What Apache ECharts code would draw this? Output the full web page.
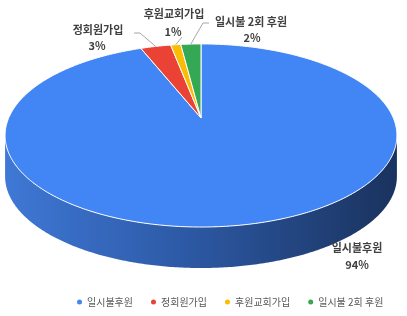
<!DOCTYPE html>
<html>
<head>
<meta charset="utf-8">
<script src="https://cdn.jsdelivr.net/npm/echarts@6/dist/echarts.min.js"></script>
<style>
html,body{margin:0;padding:0;background:#fff;}
#main{width:407px;height:316px;}
</style>
</head>
<body>
<div id="main"></div>
<script>
// data
var names=['일시불후원','정회원가입','후원교회가입','일시불 2회 후원'];
var values=[94,3,1,2];
var colors=['#4285f4','#ea4335','#fbbc04','#34a853'];
var pctText=['94%','3%','1%','2%'];

// label layout (text centers, leader bend points)
var labelPos=[[357,248],[98,30],[174,14],[251,22]];
var pctPos=[[357,265],[97,46],[173,32],[252,38]];
var leaderPts=[null,[[140,33],[134,33]],[[182,37]],[[203,23],[209,23]]];

// 3d ellipse projection
var cx=201,cy=118,A=192.3,B=88.2,p=0.191,depth=41;
function proj(t,dy){
	var u=Math.sin(t),v=Math.cos(t),w=1+p*v;
	return [cx+A*u/w,cy-B*v/w+(dy||0)];
}
var total=0;
for(var i=0;i<values.length;i++) total+=values[i];
var starts=[],acc=0;
for(var i=0;i<values.length;i++){starts.push(acc/total*Math.PI*2);acc+=values[i];}

function arc(a,b,dy){
	var pts=[],n=Math.max(2,Math.ceil((b-a)/0.01));
	for(var k=0;k<=n;k++) pts.push(proj(a+(b-a)*k/n,dy));
	return pts;
}

var lo=Math.acos(-p),hi=Math.PI*2-Math.acos(-p);
var font='"Noto Sans CJK KR", sans-serif';

function renderSlice(params,api){
	var i=params.seriesIndex;
	var a=starts[i],b=a+api.value(0)/total*Math.PI*2;
	var kids=[];
	// side
	var sa=Math.max(a,lo),sb=Math.min(b,hi);
	if(sb>sa){
		var top=arc(sa,sb,0),bot=arc(sa,sb,depth).reverse();
		kids.push({type:'polygon',shape:{points:top.concat(bot)},
			style:{fill:new echarts.graphic.LinearGradient(0,0,1,0,[
				{offset:0,color:'#3f78d6'},{offset:0.45,color:'#2d5aa6'},{offset:1,color:'#1a325e'}]),stroke:null}});
	}
	// top face
	var pts=[[cx,cy]].concat(arc(a,b,0));
	kids.push({type:'polygon',shape:{points:pts},style:{fill:colors[i],stroke:'#fff',lineWidth:1}});
	// leader
	if(leaderPts[i]){
		var m=proj((a+b)/2,0);
		kids.push({type:'polyline',shape:{points:[m].concat(leaderPts[i])},style:{stroke:'#a6a6a6',lineWidth:1,fill:null}});
	}
	kids.push({type:'text',style:{text:names[i],x:labelPos[i][0],y:labelPos[i][1],align:'center',verticalAlign:'middle',
		fill:'#404040',fontSize:11,fontWeight:'bold',fontFamily:font}});
	kids.push({type:'text',style:{text:pctText[i],x:pctPos[i][0],y:pctPos[i][1],align:'center',verticalAlign:'middle',
		fill:'#404040',fontSize:11,fontWeight:'bold',fontFamily:font}});
	return {type:'group',children:kids};
}

var myChart=echarts.init(document.getElementById('main'));
var option={
	animation:false,
	legend:{
		data:names,
		left:72,
		top:292,
		icon:'circle',
		itemWidth:5,
		itemHeight:5,
		itemGap:18,
		textStyle:{fontSize:10,color:'#595959',fontFamily:font}
	},
	series:[]
};
for(var i=0;i<names.length;i++){
	option.series.push({
		name:names[i],
		type:'custom',
		coordinateSystem:'none',
		silent:true,
		itemStyle:{color:colors[i]},
		renderItem:renderSlice,
		data:[[values[i]]]
	});
}
myChart.setOption(option);
</script>
</body>
</html>
